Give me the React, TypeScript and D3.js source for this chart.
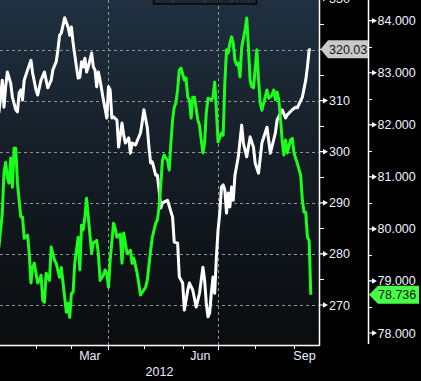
import React from 'react';
import * as d3 from 'd3';

// White series (left axis) – [date, value]
const whiteSeries: [string, number][] = [
  ['2012-01-02', 307.6], ['2012-01-04', 314.0], ['2012-01-05', 308.7], ['2012-01-06', 312.7],
  ['2012-01-09', 315.6], ['2012-01-11', 313.4], ['2012-01-12', 310.7], ['2012-01-16', 308.2],
  ['2012-01-17', 307.8], ['2012-01-18', 311.5], ['2012-01-19', 312.1], ['2012-01-20', 310.1],
  ['2012-01-23', 314.0], ['2012-01-25', 316.0], ['2012-01-27', 317.9], ['2012-01-30', 315.4],
  ['2012-02-01', 312.1], ['2012-02-02', 311.1], ['2012-02-06', 314.0], ['2012-02-08', 315.6],
  ['2012-02-09', 314.0], ['2012-02-10', 312.5], ['2012-02-14', 314.0], ['2012-02-15', 316.0],
  ['2012-02-17', 317.6], ['2012-02-20', 319.9], ['2012-02-21', 322.8], ['2012-02-22', 323.2],
  ['2012-02-24', 326.2], ['2012-02-28', 324.4], ['2012-02-29', 322.8], ['2012-03-01', 324.4],
  ['2012-03-02', 321.3], ['2012-03-06', 316.6], ['2012-03-07', 314.4], ['2012-03-08', 314.6],
  ['2012-03-09', 317.6], ['2012-03-12', 316.6], ['2012-03-13', 318.3], ['2012-03-14', 315.6],
  ['2012-03-15', 316.6], ['2012-03-19', 319.3], ['2012-03-20', 316.6], ['2012-03-21', 316.0],
  ['2012-03-22', 312.7], ['2012-03-23', 315.6], ['2012-03-26', 314.0], ['2012-03-28', 310.1],
  ['2012-03-30', 306.6], ['2012-04-02', 312.7], ['2012-04-03', 312.1], ['2012-04-04', 306.6],
  ['2012-04-05', 306.8], ['2012-04-09', 306.2], ['2012-04-10', 300.9], ['2012-04-12', 305.6],
  ['2012-04-13', 303.3], ['2012-04-16', 301.7], ['2012-04-18', 302.7], ['2012-04-19', 299.7],
  ['2012-04-20', 301.7], ['2012-04-24', 301.3], ['2012-04-27', 303.7], ['2012-04-30', 305.8],
  ['2012-05-01', 308.2], ['2012-05-03', 304.8], ['2012-05-04', 300.9], ['2012-05-07', 297.8],
  ['2012-05-08', 298.0], ['2012-05-10', 295.4], ['2012-05-11', 295.4], ['2012-05-14', 292.5],
  ['2012-05-15', 289.0], ['2012-05-16', 290.0], ['2012-05-21', 290.5], ['2012-05-24', 287.2],
  ['2012-05-25', 282.3], ['2012-05-29', 282.1], ['2012-05-30', 275.5], ['2012-06-01', 274.3],
  ['2012-06-04', 269.0], ['2012-06-06', 272.9], ['2012-06-07', 274.3], ['2012-06-11', 272.9],
  ['2012-06-13', 269.6], ['2012-06-15', 272.3], ['2012-06-19', 277.4], ['2012-06-20', 274.9],
  ['2012-06-21', 270.4], ['2012-06-22', 267.7], ['2012-06-25', 268.4], ['2012-06-26', 272.3],
  ['2012-06-27', 275.5], ['2012-06-28', 272.3], ['2012-06-29', 279.4], ['2012-07-02', 284.7],
  ['2012-07-03', 288.0], ['2012-07-04', 293.1], ['2012-07-05', 293.5], ['2012-07-06', 292.5],
  ['2012-07-09', 288.0], ['2012-07-10', 291.9], ['2012-07-11', 289.2], ['2012-07-12', 293.1],
  ['2012-07-13', 290.5], ['2012-07-16', 295.4], ['2012-07-18', 299.0], ['2012-07-20', 305.2],
  ['2012-07-23', 301.7], ['2012-07-25', 299.0], ['2012-07-27', 302.9], ['2012-07-31', 300.9],
  ['2012-08-01', 297.8], ['2012-08-03', 295.8], ['2012-08-07', 301.7], ['2012-08-10', 304.8],
  ['2012-08-14', 299.7], ['2012-08-17', 303.7], ['2012-08-20', 306.2], ['2012-08-23', 308.2],
  ['2012-08-27', 306.6], ['2012-08-28', 307.2], ['2012-08-31', 308.2], ['2012-09-04', 308.7],
  ['2012-09-05', 308.6], ['2012-09-10', 310.7], ['2012-09-12', 314.0], ['2012-09-13', 316.6],
  ['2012-09-14', 319.9], ['2012-09-17', 320.03],
];

// Green series (right axis) – [date, value]
const greenSeries: [string, number][] = [
  ['2012-01-02', 79.65], ['2012-01-04', 80.30], ['2012-01-05', 81.07], ['2012-01-06', 81.28],
  ['2012-01-09', 80.99], ['2012-01-10', 80.88], ['2012-01-11', 81.36], ['2012-01-12', 80.80],
  ['2012-01-13', 81.55], ['2012-01-16', 81.55], ['2012-01-17', 80.88], ['2012-01-18', 80.55],
  ['2012-01-19', 80.23], ['2012-01-20', 80.23], ['2012-01-23', 79.82], ['2012-01-25', 79.88],
  ['2012-01-26', 79.53], ['2012-01-27', 78.96], ['2012-01-30', 79.26], ['2012-01-31', 79.34],
  ['2012-02-02', 78.96], ['2012-02-03', 79.01], ['2012-02-06', 79.11], ['2012-02-07', 78.63],
  ['2012-02-08', 78.59], ['2012-02-09', 79.15], ['2012-02-13', 79.01], ['2012-02-14', 79.65],
  ['2012-02-16', 79.40], ['2012-02-17', 79.34], ['2012-02-21', 79.07], ['2012-02-22', 79.26],
  ['2012-02-24', 78.69], ['2012-02-27', 78.40], ['2012-02-28', 78.57], ['2012-02-29', 78.30],
  ['2012-03-01', 78.76], ['2012-03-02', 78.78], ['2012-03-05', 79.34], ['2012-03-06', 79.59],
  ['2012-03-07', 79.84], ['2012-03-08', 79.21], ['2012-03-09', 80.07], ['2012-03-12', 79.98],
  ['2012-03-13', 80.23], ['2012-03-14', 80.59], ['2012-03-15', 80.23], ['2012-03-19', 79.53],
  ['2012-03-20', 79.73], ['2012-03-22', 79.78], ['2012-03-23', 79.53], ['2012-03-26', 79.01],
  ['2012-03-28', 79.11], ['2012-03-29', 79.21], ['2012-03-30', 79.15], ['2012-04-02', 78.88],
  ['2012-04-03', 79.40], ['2012-04-05', 80.11], ['2012-04-06', 80.01], ['2012-04-09', 79.84],
  ['2012-04-11', 79.90], ['2012-04-12', 79.34], ['2012-04-13', 79.92], ['2012-04-17', 79.53],
  ['2012-04-19', 79.59], ['2012-04-20', 79.34], ['2012-04-23', 79.44], ['2012-04-25', 79.15],
  ['2012-04-27', 78.73], ['2012-05-02', 78.88], ['2012-05-03', 79.01], ['2012-05-07', 79.59],
  ['2012-05-08', 79.84], ['2012-05-10', 80.11], ['2012-05-11', 80.17], ['2012-05-14', 80.42],
  ['2012-05-15', 80.84], ['2012-05-16', 81.32], ['2012-05-17', 81.42], ['2012-05-21', 81.32],
  ['2012-05-22', 81.13], ['2012-05-23', 81.65], ['2012-05-24', 82.09], ['2012-05-25', 82.34],
  ['2012-05-28', 82.42], ['2012-05-29', 82.67], ['2012-05-30', 83.05], ['2012-05-31', 83.09],
  ['2012-06-04', 82.86], ['2012-06-05', 82.90], ['2012-06-06', 82.53], ['2012-06-07', 82.48],
  ['2012-06-08', 82.13], ['2012-06-11', 82.53], ['2012-06-12', 82.53], ['2012-06-14', 82.09],
  ['2012-06-15', 81.99], ['2012-06-18', 81.71], ['2012-06-19', 81.46], ['2012-06-20', 81.65],
  ['2012-06-21', 82.23], ['2012-06-22', 82.51], ['2012-06-26', 82.48], ['2012-06-27', 82.53],
  ['2012-06-28', 82.82], ['2012-06-29', 82.28], ['2012-07-02', 81.67], ['2012-07-04', 81.84],
  ['2012-07-05', 81.80], ['2012-07-06', 82.80], ['2012-07-09', 83.44], ['2012-07-10', 83.38],
  ['2012-07-11', 83.57], ['2012-07-12', 83.69], ['2012-07-13', 83.57], ['2012-07-16', 83.24],
  ['2012-07-17', 83.15], ['2012-07-18', 83.19], ['2012-07-19', 82.92], ['2012-07-20', 83.49],
  ['2012-07-24', 83.82], ['2012-07-25', 84.05], ['2012-07-26', 83.49], ['2012-07-27', 82.86],
  ['2012-07-30', 82.73], ['2012-07-31', 82.71], ['2012-08-02', 83.44], ['2012-08-03', 82.86],
  ['2012-08-06', 82.42], ['2012-08-07', 82.28], ['2012-08-10', 82.67], ['2012-08-13', 82.51],
  ['2012-08-15', 82.57], ['2012-08-16', 82.67], ['2012-08-17', 82.48], ['2012-08-20', 82.63],
  ['2012-08-21', 82.48], ['2012-08-22', 82.13], ['2012-08-23', 81.71], ['2012-08-24', 81.42],
  ['2012-08-27', 81.71], ['2012-08-28', 81.46], ['2012-08-30', 81.71], ['2012-08-31', 81.74],
  ['2012-09-03', 81.46], ['2012-09-04', 81.36], ['2012-09-05', 81.26], ['2012-09-07', 81.03],
  ['2012-09-10', 80.55], ['2012-09-11', 80.32], ['2012-09-12', 80.32], ['2012-09-13', 79.84],
  ['2012-09-14', 79.78], ['2012-09-17', 78.736],
];

const leftTicks = [270, 280, 290, 300, 310, 320, 330];
const leftMinorTicks = [275, 285, 295, 305, 315, 325];
const rightTicks = [78, 79, 80, 81, 82, 83, 84];
const rightMinorTicks = [78.5, 79.5, 80.5, 81.5, 82.5, 83.5];
const monthStarts = ['2012-02-01', '2012-03-01', '2012-04-02', '2012-05-01', '2012-06-01', '2012-07-02', '2012-08-01', '2012-09-03'];
const quarterGridDates = ['2012-04-02', '2012-07-02'];
const monthLabels = ['Mar', 'Jun', 'Sep'];
const monthLabelStarts = ['2012-03-01', '2012-06-01', '2012-09-03'];
const monthLabelEnds = ['2012-04-02', '2012-07-02', '2012-10-01'];
const yearLabel = '2012';

const W = 421, H = 381;
const PL = 0, PR = 319, PT = 0, PB = 345;
const RAX = 368;
const FONT = 'Liberation Sans, Arial, sans-serif';

const base = new Date(2012, 0, 2);
function wIndex(s: string): number {
  const [y, m, d] = s.split('-').map(Number);
  const days = d3.timeDay.count(base, new Date(y, m - 1, d));
  return Math.floor(days / 7) * 5 + Math.min(days % 7, 5);
}

export default function App() {
  const x = d3.scaleLinear().domain([0.65, 189.86]).range([PL, PR]);
  const yL = d3.scaleLinear().domain([270, 320]).range([305, 49.5]);
  const yR = d3.scaleLinear().domain([78, 84]).range([333, 20.7]);

  const whiteLine = d3.line<[string, number]>().x(d => x(wIndex(d[0]))).y(d => yL(d[1]));
  const greenLine = d3.line<[string, number]>().x(d => x(wIndex(d[0]))).y(d => yR(d[1]));

  const lastW = whiteSeries[whiteSeries.length - 1][1];
  const lastG = greenSeries[greenSeries.length - 1][1];
  const yw = yL(lastW);
  const yg = yR(lastG);

  const marker = (ax: number, y: number) =>
    `M${ax},${y - 0.6} L${ax + 3},${y - 0.6} L${ax + 3},${y - 2.8} L${ax + 8},${y} L${ax + 3},${y + 2.8} L${ax + 3},${y + 0.6} L${ax},${y + 0.6} Z`;

  return (
    <svg width={W} height={H} style={{ position: 'absolute', left: 0, top: 0, display: 'block' }}>
      <defs>
        <linearGradient id="bg" x1="0" y1="0" x2="0" y2="1">
          <stop offset="0" stopColor="#203040" />
          <stop offset="0.5" stopColor="#141c24" />
          <stop offset="1" stopColor="#0a0c0e" />
        </linearGradient>
        <clipPath id="plot">
          <rect x={PL} y={PT} width={PR - PL} height={PB - PT} />
        </clipPath>
      </defs>
      <rect x={0} y={0} width={W} height={H} fill="#000" />
      <rect x={PL} y={PT} width={PR - PL} height={PB - PT} fill="url(#bg)" />

      {/* grid */}
      {leftTicks.filter(t => yL(t) > PT + 1).map(t => (
        <line key={'gh' + t} x1={PL} x2={PR} y1={Math.round(yL(t)) + 0.5} y2={Math.round(yL(t)) + 0.5}
          stroke="#8d949a" strokeWidth={1} strokeDasharray="3,3" />
      ))}
      {quarterGridDates.map(d => (
        <line key={'gv' + d} x1={Math.round(x(wIndex(d))) + 0.5} x2={Math.round(x(wIndex(d))) + 0.5} y1={PT} y2={PB}
          stroke="#8d949a" strokeWidth={1} strokeDasharray="3,3" />
      ))}

      {/* legend box (cut at top) */}
      <g>
        <rect x={153.5} y={-12} width={103} height={16} fill="#1c2731" stroke="#050505" strokeWidth={1.5} />
        {[173, 205, 232].map(v => (
          <line key={'lb' + v} x1={v} x2={v} y1={-2} y2={3} stroke="#3a444c" strokeWidth={1} />
        ))}
      </g>

      {/* series */}
      <g clipPath="url(#plot)">
        <path d={whiteLine(whiteSeries) || ''} fill="none" stroke="#ffffff" strokeWidth={3} strokeLinejoin="round" />
        <path d={greenLine(greenSeries) || ''} fill="none" stroke="#1cff1c" strokeWidth={3} strokeLinejoin="round" />
      </g>

      {/* axes lines */}
      <line x1={PR + 0.5} x2={PR + 0.5} y1={0} y2={PB + 1} stroke="#fff" strokeWidth={1.5} />
      <line x1={PL} x2={PR + 1} y1={PB + 0.5} y2={PB + 0.5} stroke="#fff" strokeWidth={1.5} />
      <line x1={RAX + 0.5} x2={RAX + 0.5} y1={0} y2={PB - 1} stroke="#fff" strokeWidth={1.5} />

      {/* left value axis */}
      {leftMinorTicks.map(t => (
        <line key={'lm' + t} x1={PR} x2={PR + 5} y1={Math.round(yL(t)) + 0.5} y2={Math.round(yL(t)) + 0.5} stroke="#fff" strokeWidth={1} />
      ))}
      {leftTicks.map(t => (
        <g key={'lt' + t}>
          <path d={marker(PR + 1, yL(t))} fill="#fff" />
          {Math.abs(yL(t) - yw) > 12 && (
            <text x={329} y={yL(t)} dy="0.36em" fill="#eef3ff" fontFamily={FONT} fontSize={12.5}>{t}</text>
          )}
        </g>
      ))}

      {/* right value axis */}
      {rightMinorTicks.map(t => (
        <line key={'rm' + t} x1={RAX} x2={RAX + 4} y1={Math.round(yR(t)) + 0.5} y2={Math.round(yR(t)) + 0.5} stroke="#fff" strokeWidth={1} />
      ))}
      {rightTicks.map(t => (
        <g key={'rt' + t}>
          <path d={marker(RAX + 1, yR(t))} fill="#fff" />
          <text x={377.5} y={yR(t)} dy="0.36em" fill="#eef3ff" fontFamily={FONT} fontSize={12.5}>{t.toFixed(3)}</text>
        </g>
      ))}

      {/* last value tags */}
      <path d={`M${PR + 1.5},${yw} L${PR + 9},${yw - 9} L${RAX},${yw - 9} L${RAX},${yw + 9} L${PR + 9},${yw + 9} Z`} fill="#c9c9c9" />
      <text x={329} y={yw} dy="0.36em" fill="#111" fontFamily={FONT} fontSize={12.5}>{lastW.toFixed(2)}</text>
      <path d={`M${RAX + 1},${yg} L${RAX + 10},${yg - 9} L${W - 2},${yg - 9} L${W - 2},${yg + 9} L${RAX + 10},${yg + 9} Z`} fill="#46ff46" />
      <text x={378} y={yg} dy="0.36em" fill="#111" fontFamily={FONT} fontSize={12.5}>{lastG.toFixed(3)}</text>

      {/* time axis */}
      {monthStarts.map(d => {
        const q = quarterGridDates.includes(d);
        return (
          <line key={'mt' + d} x1={Math.round(x(wIndex(d))) + 0.5} x2={Math.round(x(wIndex(d))) + 0.5}
            y1={PB} y2={PB + (q ? 5 : 4)} stroke="#fff" strokeWidth={1} />
        );
      })}
      {monthLabels.map((m, i) => {
        const a = x(wIndex(monthLabelStarts[i]));
        const b = Math.min(x(wIndex(monthLabelEnds[i])), PR - 4);
        return (
          <text key={'ml' + m} x={(a + b) / 2} y={360} textAnchor="middle" fill="#e8efff" fontFamily={FONT} fontSize={12.5}>{m}</text>
        );
      })}
      <text x={(PL + PR) / 2} y={375.5} textAnchor="middle" fill="#e8efff" fontFamily={FONT} fontSize={12.5}>{yearLabel}</text>
    </svg>
  );
}
